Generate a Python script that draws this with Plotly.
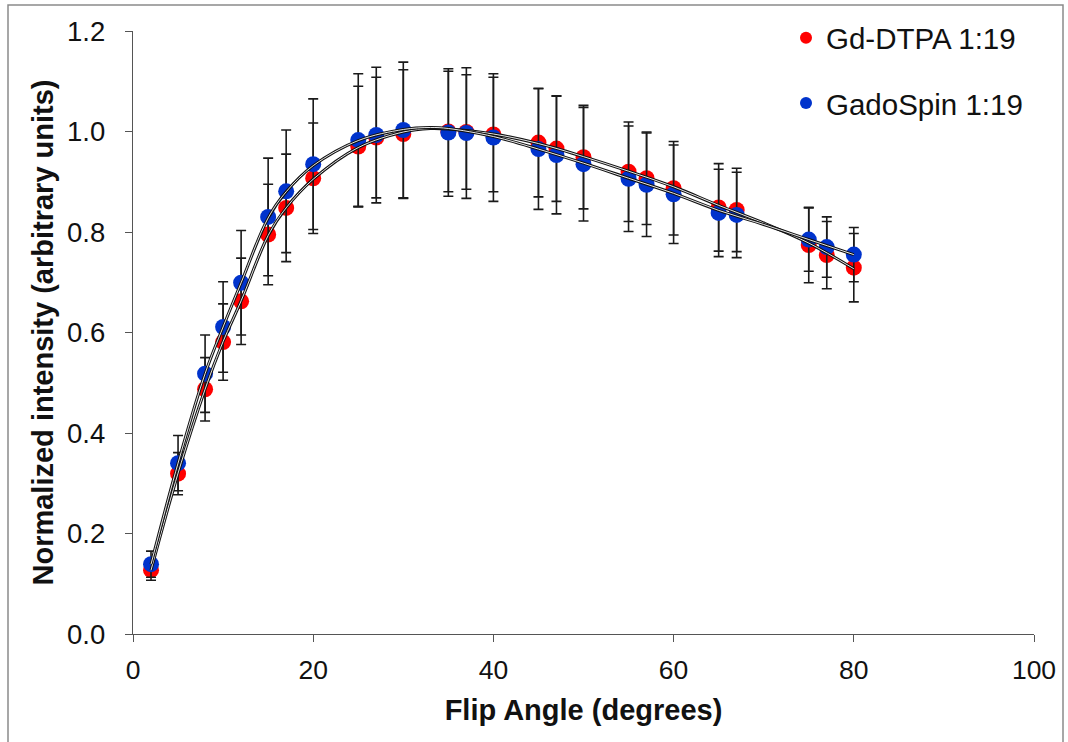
import plotly.graph_objects as go

# Flip angles (degrees)
flip_angle = [2, 5, 8, 10, 12, 15, 17, 20, 25, 27, 30, 35, 37, 40, 45, 47, 50, 55, 57, 60, 65, 67, 75, 77, 80]

# Gd-DTPA 1:19
gd_dtpa = [0.127, 0.319, 0.487, 0.581, 0.662, 0.795, 0.848, 0.907, 0.970, 0.988, 0.995, 1.000, 0.999,
           0.994, 0.978, 0.966, 0.949, 0.920, 0.907, 0.887, 0.849, 0.844, 0.774, 0.754, 0.729]
gd_dtpa_err = [0.020, 0.042, 0.063, 0.076, 0.086, 0.100, 0.107, 0.110, 0.120, 0.120, 0.128, 0.120, 0.114,
               0.114, 0.108, 0.105, 0.103, 0.099, 0.092, 0.093, 0.087, 0.083, 0.075, 0.067, 0.068]

# GadoSpin 1:19
gadospin = [0.139, 0.340, 0.518, 0.611, 0.699, 0.830, 0.881, 0.935, 0.983, 0.993, 1.003, 0.998, 0.997,
            0.988, 0.965, 0.953, 0.935, 0.906, 0.894, 0.875, 0.838, 0.834, 0.785, 0.770, 0.755]
gadospin_err = [0.026, 0.055, 0.077, 0.090, 0.104, 0.117, 0.122, 0.130, 0.132, 0.135, 0.135, 0.127, 0.130,
                0.127, 0.120, 0.117, 0.113, 0.105, 0.103, 0.098, 0.087, 0.085, 0.063, 0.060, 0.054]

# Fitted curves
fit_x = [2, 5, 8, 10, 12, 15, 17, 20, 25, 30, 33, 35, 40, 45, 50, 55, 60, 65, 70, 75, 80]
fit_gd_dtpa = [0.127, 0.320, 0.487, 0.582, 0.663, 0.793, 0.848, 0.905, 0.968, 0.999, 1.006, 1.005,
               0.995, 0.976, 0.950, 0.921, 0.890, 0.853, 0.818, 0.778, 0.727]
fit_gadospin = [0.139, 0.340, 0.518, 0.611, 0.699, 0.828, 0.880, 0.932, 0.982, 1.004, 1.008, 1.006,
                0.990, 0.965, 0.937, 0.907, 0.877, 0.843, 0.815, 0.785, 0.755]

RED = "#FF0000"
BLUE = "#0033CC"
BAR = "#1a1a1a"

fig = go.Figure()

fig.add_trace(go.Scatter(
    x=flip_angle, y=gd_dtpa, mode="markers", name="Gd-DTPA 1:19", legendgroup="a",
    marker=dict(color=RED, size=16),
    error_y=dict(type="data", array=gd_dtpa_err, visible=True, color=BAR, thickness=1.6, width=5),
))
fig.add_trace(go.Scatter(
    x=flip_angle, y=gadospin, mode="markers", name="GadoSpin 1:19", legendgroup="b",
    marker=dict(color=BLUE, size=16),
    error_y=dict(type="data", array=gadospin_err, visible=True, color=BAR, thickness=1.6, width=5),
))

for fy in (fit_gd_dtpa, fit_gadospin):
    fig.add_trace(go.Scatter(x=fit_x, y=fy, mode="lines", showlegend=False, hoverinfo="skip",
                             line=dict(color="#111111", width=3.0, shape="spline", smoothing=1.0)))
    fig.add_trace(go.Scatter(x=fit_x, y=fy, mode="lines", showlegend=False, hoverinfo="skip",
                             line=dict(color="#ffffff", width=0.9, shape="spline", smoothing=1.0)))

L, R, T, B = 133, 34, 29, 108
W, H = 1068, 742
pw, ph = W - L - R, H - T - B

fig.update_layout(
    width=W, height=H,
    margin=dict(l=L, r=R, t=T, b=B),
    paper_bgcolor="white", plot_bgcolor="white",
    font=dict(family="Liberation Sans, Arial, sans-serif", color="#111111"),
    showlegend=True,
    legend=dict(x=(786 - L) / pw, y=1 + (T - 10) / ph, xanchor="left", yanchor="top",
                font=dict(size=29.5, color="#111111"), itemsizing="constant",
                tracegroupgap=24, bgcolor="rgba(0,0,0,0)"),
    xaxis=dict(range=[0, 100], dtick=20, tick0=0, showgrid=False, zeroline=False,
               showline=True, linecolor="#555555", linewidth=1.4,
               ticks="outside", ticklen=7, tickcolor="#555555", tickwidth=1.4,
               tickfont=dict(size=26.5, color="#111111"),
               title=dict(text="<b>Flip Angle (degrees)</b>", font=dict(size=29, color="#111111"), standoff=15),
               ticklabelstandoff=5,
               automargin=False),
    yaxis=dict(range=[0, 1.2], dtick=0.2, tick0=0, tickformat=".1f", showgrid=False, zeroline=False,
               showline=True, linecolor="#555555", linewidth=1.4,
               ticks="outside", ticklen=7, tickcolor="#555555", tickwidth=1.4,
               tickfont=dict(size=27.5, color="#111111"),
               title=dict(text="<b>Normalized intensity (arbitrary units)</b>", font=dict(size=29, color="#111111"), standoff=4),
               ticklabelstandoff=14,
               automargin=False),
)

# Outer frame of the picture
fig.add_shape(type="rect", xref="paper", yref="paper",
              x0=(8 - L) / pw, x1=(1063 - L) / pw,
              y0=-(H + 5 - (T + ph)) / ph, y1=1 + (T - 3) / ph,
              line=dict(color="#8a8a8a", width=1.5), fillcolor="rgba(0,0,0,0)", layer="below")

fig.write_html("out.html", config={"displayModeBar": False},
               post_script="document.body.style.margin='0';document.body.style.padding='0';")
